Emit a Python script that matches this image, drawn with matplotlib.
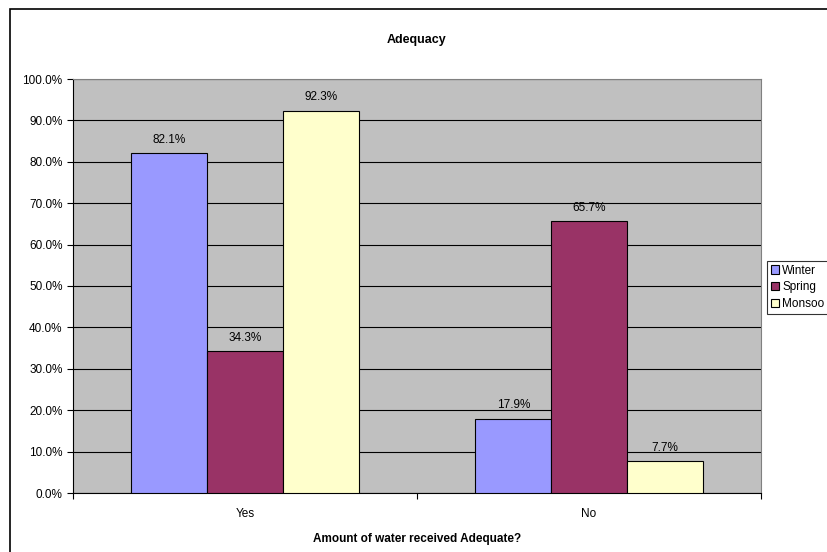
import matplotlib.pyplot as plt
import matplotlib.patches as patches
import numpy as np
from matplotlib.ticker import FixedLocator, PercentFormatter

plt.rcParams['font.family'] = ['Liberation Sans', 'DejaVu Sans']

# Data
categories = ['Yes', 'No']
seasons = ['Winter', 'Spring', 'Monsoo']
winter = [82.1, 17.9]
spring = [34.3, 65.7]
monsoon = [92.3, 7.7]
colors = ['#9999FF', '#993366', '#FFFFCC']

fig = plt.figure(figsize=(8.28, 5.52), dpi=100)
W, H = 828, 552

# outer chart border (clipped on right/bottom like the original)
fig.patches.append(patches.Rectangle((10 / W, -0.1), 1.2, (H - 9) / H + 0.1,
                                     transform=fig.transFigure, fill=False,
                                     edgecolor='black', linewidth=1.2))

ax = fig.add_axes([73 / W, 1 - 493 / H, (761 - 73) / W, (493 - 79) / H])
ax.set_facecolor('#C0C0C0')

x = np.arange(len(categories))
width = 0.22
series = [winter, spring, monsoon]
for i, (vals, name, col) in enumerate(zip(series, seasons, colors)):
    bars = ax.bar(x + (i - 1) * width, vals, width, label=name, color=col,
                  edgecolor='black', linewidth=0.8, zorder=3)
    for b, v in zip(bars, vals):
        ax.text(b.get_x() + b.get_width() / 2, v + 1.8, f'{v:.1f}%',
                ha='center', va='bottom', fontsize=8.5, zorder=4)

ax.set_xlim(-0.5, 1.5)
ax.set_ylim(0, 100)
ax.yaxis.set_major_locator(FixedLocator(np.arange(0, 101, 10)))
ax.yaxis.set_major_formatter(PercentFormatter(decimals=1))
ax.grid(axis='y', color='black', linewidth=0.8, zorder=1)

ax.set_xticks([-0.5, 0.5, 1.5])
ax.set_xticklabels(['', '', ''])
ax.set_xticks(x, minor=True)
ax.set_xticklabels(categories, minor=True)
ax.tick_params(axis='x', which='minor', length=0, pad=11, labelsize=8.5)
ax.tick_params(axis='x', which='major', length=4, direction='out')
ax.tick_params(axis='y', length=4, direction='out', labelsize=8.5)

for s in ['top', 'right']:
    ax.spines[s].set_color('#808080')
ax.spines['left'].set_color('black')
ax.spines['bottom'].set_color('black')

ax.set_title('Adequacy', fontsize=9, fontweight='bold', pad=26)
ax.set_xlabel('Amount of water received Adequate?', fontsize=8.5, fontweight='bold', labelpad=9)

leg = ax.legend(loc='upper left', bbox_to_anchor=(767 / W, 1 - 261 / H),
                bbox_transform=fig.transFigure, fontsize=8.5, frameon=True,
                fancybox=False, edgecolor='black', handlelength=0.7,
                handleheight=0.7, handletextpad=0.3, borderpad=0.3,
                labelspacing=0.4, borderaxespad=0)
leg.get_frame().set_linewidth(0.8)

fig.savefig('out.png', dpi=100)
